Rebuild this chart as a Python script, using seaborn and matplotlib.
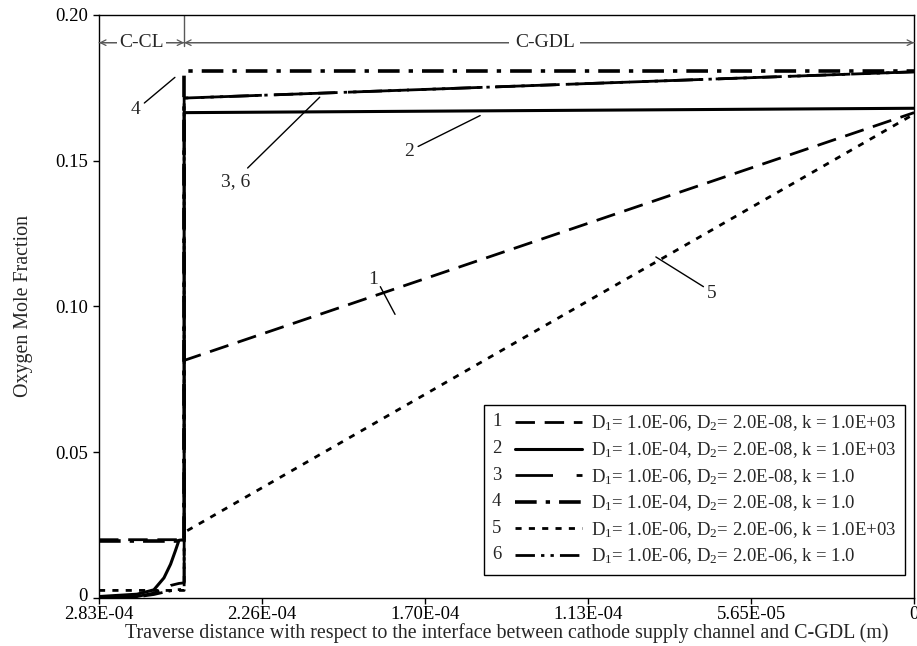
import numpy as np
import pandas as pd
import matplotlib
matplotlib.use("Agg")
import matplotlib.pyplot as plt
import matplotlib.transforms as mtransforms
import seaborn as sns
from matplotlib.lines import Line2D
from matplotlib.text import Text
from matplotlib.legend_handler import HandlerLine2D

# ---------------- data ----------------
x_interface = 2.53e-4
case_ids = ["1", "2", "3", "4", "5", "6"]
case_labels = [
    r"D$_\mathrm{1}$= 1.0E-06, D$_\mathrm{2}$= 2.0E-08, k = 1.0E+03",
    r"D$_\mathrm{1}$= 1.0E-04, D$_\mathrm{2}$= 2.0E-08, k = 1.0E+03",
    r"D$_\mathrm{1}$= 1.0E-06, D$_\mathrm{2}$= 2.0E-08, k = 1.0",
    r"D$_\mathrm{1}$= 1.0E-04, D$_\mathrm{2}$= 2.0E-08, k = 1.0",
    r"D$_\mathrm{1}$= 1.0E-06, D$_\mathrm{2}$= 2.0E-06, k = 1.0E+03",
    r"D$_\mathrm{1}$= 1.0E-06, D$_\mathrm{2}$= 2.0E-06, k = 1.0",
]

x1 = [2.825e-4, 2.53e-4, 2.53e-4, 0.0]
y1 = [0.020, 0.020, 0.0815, 0.1665]

x2 = [2.825e-4, 2.693e-4, 2.635e-4, 2.600e-4, 2.577e-4, 2.560e-4, 2.548e-4, 2.53e-4, 2.53e-4, 0.0]
y2 = [0.0005, 0.0013, 0.0028, 0.0069, 0.0116, 0.0163, 0.0198, 0.0200, 0.1665, 0.1680]

x3 = [2.825e-4, 2.693e-4, 2.635e-4, 2.600e-4, 2.577e-4, 2.548e-4, 2.53e-4, 2.53e-4, 0.0]
y3 = [0.0000, 0.0005, 0.0017, 0.0030, 0.0043, 0.0050, 0.0052, 0.1715, 0.1805]

x4 = [2.825e-4, 2.53e-4, 2.53e-4, 0.0]
y4 = [0.0195, 0.0195, 0.1808, 0.1808]

x5 = [2.825e-4, 2.53e-4, 2.53e-4, 0.0]
y5 = [0.0026, 0.0026, 0.0225, 0.1660]

x6 = [2.825e-4, 2.693e-4, 2.635e-4, 2.600e-4, 2.560e-4, 2.53e-4, 2.53e-4, 0.0]
y6 = [0.0000, 0.0004, 0.0012, 0.0020, 0.0028, 0.0030, 0.1715, 0.1805]

xtick_vals = [2.825e-4, 2.26e-4, 1.695e-4, 1.13e-4, 5.65e-5, 0.0]
xtick_labels = ["2.83E-04", "2.26E-04", "1.70E-04", "1.13E-04", "5.65E-05", "0"]
ytick_vals = [0.0, 0.05, 0.10, 0.15, 0.20]
ytick_labels = ["0", "0.05", "0.10", "0.15", "0.20"]

series_x = [x1, x2, x3, x4, x5, x6]
series_y = [y1, y2, y3, y4, y5, y6]

# ---------------- style ----------------
sns.set_style("ticks")
plt.rcParams["font.family"] = ["Liberation Serif", "DejaVu Serif"]
plt.rcParams["mathtext.fontset"] = "custom"
plt.rcParams["mathtext.rm"] = "Liberation Serif"
plt.rcParams["mathtext.it"] = "Liberation Serif:italic"
plt.rcParams["mathtext.bf"] = "Liberation Serif:bold"

FS = 13.5
dash_patterns = [
    (7, 3.5),                 # 1 long dash
    None,                     # 2 solid
    (22, 4.5),                # 3 long dash
    (6, 2.5, 1.2, 2.5),       # 4 dash-dot
    (2.2, 2.6),               # 5 short dash
    (7, 2.2, 1.2, 2.2, 1.2, 2.2),  # 6 dash-dot-dot
]
legend_dashes = [(7, 3.5), None, (13.5, 8.5), (6, 2.5, 1.2, 2.5), (2.2, 2.6),
                 (7, 2.2, 1.2, 2.2, 1.2, 2.2)]
lws = [2.0, 2.2, 2.0, 2.6, 2.0, 2.0]

fig = plt.figure(figsize=(9.17, 6.46), dpi=100)
ax = fig.add_axes([0.108, 0.0743, 0.8888, 0.9025])

handles = []
for i in range(6):
    df = pd.DataFrame({"x": series_x[i], "y": series_y[i]})
    sns.lineplot(data=df, x="x", y="y", ax=ax, color="black", sort=False,
                 estimator=None, linewidth=lws[i])
    ln = ax.lines[-1]
    if dash_patterns[i] is not None:
        ln.set_dashes(dash_patterns[i])
    ln.set_dash_capstyle("butt")
    handles.append(ln)

ax.set_xlim(2.825e-4, 0.0)
ax.set_ylim(0.0, 0.20)
ax.set_xticks(xtick_vals)
ax.set_xticklabels(xtick_labels, fontsize=FS)
ax.set_yticks(ytick_vals)
ax.set_yticklabels(ytick_labels, fontsize=FS)
ax.tick_params(direction="out", length=4, width=1, colors="black")
ax.tick_params(axis="x", pad=1.5)
ax.tick_params(axis="y", pad=4)
# nudge the "0" y tick label up a little so it clears the first x tick label
lbl0 = ax.get_yticklabels()[0]
lbl0.set_transform(lbl0.get_transform() + mtransforms.ScaledTranslation(0, 4 / 100, fig.dpi_scale_trans))
for s in ax.spines.values():
    s.set_visible(True)
    s.set_color("black")
    s.set_linewidth(1.0)
ax.set_xlabel("Traverse distance with respect to the interface between cathode supply channel and C-GDL (m)",
              fontsize=14.4, labelpad=0)
ax.set_ylabel("Oxygen Mole Fraction", fontsize=14.4, labelpad=16)

# ---------------- region annotations ----------------
y_arr = 0.1905
ax.plot([x_interface, x_interface], [0.20, 0.1895], color="0.35", lw=1.0)
for a, b in [(2.825e-4, x_interface), (x_interface, 2.825e-4), (0.0, x_interface), (x_interface, 0.0)]:
    ax.annotate("", xy=(a, y_arr), xytext=(b, y_arr),
                arrowprops=dict(arrowstyle="->", lw=0.9, color="0.35", shrinkA=0, shrinkB=0))
ax.text((2.825e-4 + x_interface) / 2, y_arr, "C-CL", fontsize=14, ha="center", va="center",
        bbox=dict(facecolor="white", edgecolor="none", pad=1.5))
ax.text(1.28e-4, y_arr, "C-GDL", fontsize=14, ha="center", va="center",
        bbox=dict(facecolor="white", edgecolor="none", pad=4))

# ---------------- curve labels ----------------
def leader(txt, tx, ty, x0, y0, x1_, y1_):
    ax.text(tx, ty, txt, fontsize=14, ha="center", va="center")
    ax.plot([x0, x1_], [y0, y1_], color="black", lw=1.0)

leader("4", 2.700e-4, 0.1675, 2.668e-4, 0.1698, 2.562e-4, 0.1786)
leader("3, 6", 2.35e-4, 0.1430, 2.310e-4, 0.1475, 2.060e-4, 0.1718)
leader("2", 1.75e-4, 0.1532, 1.719e-4, 0.1549, 1.504e-4, 0.1655)
leader("1", 1.876e-4, 0.1092, 1.850e-4, 0.1068, 1.799e-4, 0.0973)
leader("5", 7.03e-5, 0.1044, 7.30e-5, 0.1068, 8.95e-5, 0.1170)

# ---------------- legend ----------------
class NumHandler(HandlerLine2D):
    def __init__(self, num, dashes, **kw):
        super().__init__(**kw)
        self.num = num
        self.dashes = dashes

    def create_artists(self, legend, orig_handle, xdescent, ydescent, width, height, fontsize, trans):
        y = (height - ydescent) / 2.0
        x0 = 0.26 * width
        line = Line2D([x0 - xdescent, width - xdescent], [y, y])
        self.update_prop(line, orig_handle, legend)
        if self.dashes is not None:
            line.set_dashes(self.dashes)
        line.set_dash_capstyle("butt")
        line.set_transform(trans)
        txt = Text(-xdescent, y, self.num, fontsize=fontsize, va="center", ha="left",
                   family=["Liberation Serif"])
        txt.set_transform(trans)
        return [line, txt]

hmap = {h: NumHandler(case_ids[i], legend_dashes[i]) for i, h in enumerate(handles)}
leg = ax.legend(handles, case_labels, handler_map=hmap, loc="lower right",
                bbox_to_anchor=(0.989, 0.040), borderaxespad=0, fontsize=13.5,
                handlelength=4.8, handletextpad=0.5, labelspacing=0.36,
                fancybox=False, framealpha=1, edgecolor="black", borderpad=0.45)
leg.get_frame().set_linewidth(1.0)

fig.savefig("out.png", dpi=100, facecolor="white")
